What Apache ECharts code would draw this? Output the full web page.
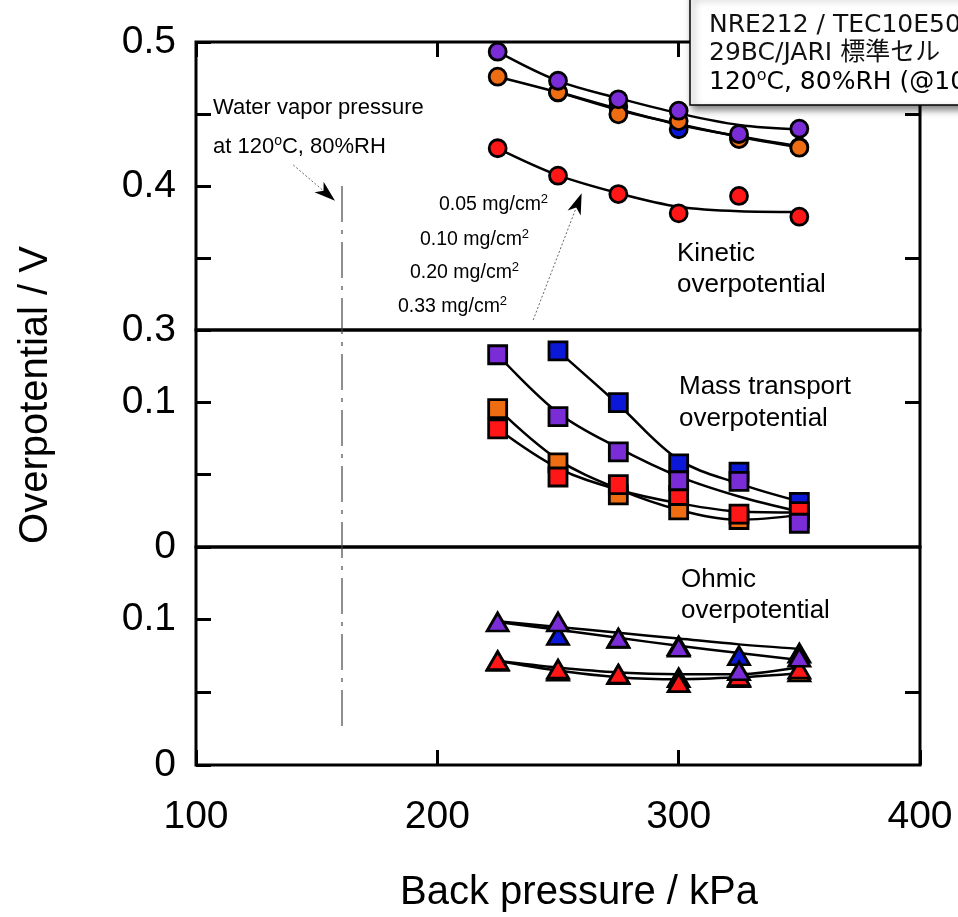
<!DOCTYPE html>
<html><head><meta charset="utf-8">
<script src="https://cdn.jsdelivr.net/npm/echarts@6/dist/echarts.min.js"></script>
<style>html,body{margin:0;padding:0;background:#fff}#c{width:958px;height:917px}</style>
</head><body><div id="c"></div>
<script>
// ---------------- data ----------------
const pressure = [225, 250, 275, 300, 325, 350];

// Kinetic overpotential (V)
const kineticBlue   = [null, 0.4650, 0.4551, 0.4394, 0.4338, 0.4270];
const kineticOrange = [0.4759, 0.4651, 0.4498, 0.4451, 0.4326, 0.4266];
const kineticRed    = [0.4262, 0.4072, 0.3944, 0.3810, 0.3931, 0.3787];
const kineticPurple = [0.4933, 0.4731, 0.4602, 0.4523, 0.4361, 0.4398];
const kineticFitBlue   = [null, 0.4655, 0.4535, 0.4425, 0.4345, 0.4275];
const kineticFitOrange = [0.4759, 0.4650, 0.4528, 0.4430, 0.4342, 0.4269];
const kineticFitRed    = [0.4262, 0.4075, 0.3950, 0.3856, 0.3825, 0.3820];
const kineticFitPurple = [0.4933, 0.4730, 0.4610, 0.4505, 0.4424, 0.4394];

// Mass transport overpotential (V)
const massBlue   = [null, 0.1356, 0.0998, 0.0574, 0.0518, 0.0308];
const massOrange = [0.0956, 0.0581, 0.0361, 0.0257, 0.0190, 0.0200];
const massRed    = [0.0817, 0.0484, 0.0431, 0.0356, 0.0227, 0.0245];
const massPurple = [0.1329, 0.0901, 0.0657, 0.0458, 0.0454, 0.0164];
const massFitBlue   = [null, 0.1356, 0.0985, 0.0604, 0.0438, 0.0315];
const massFitOrange = [0.0956, 0.0604, 0.0400, 0.0257, 0.0188, 0.0222];
const massFitRed    = [0.0817, 0.0546, 0.0396, 0.0303, 0.0245, 0.0238];
const massFitPurple = [0.1329, 0.0928, 0.0685, 0.0488, 0.0349, 0.0245];

// Ohmic overpotential (V)
const ohmicBlue   = [null, 0.0891, 0.0870, 0.0820, 0.0752, 0.0770];
const ohmicOrange = [0.0712, 0.0645, 0.0622, 0.0600, 0.0600, 0.0640];
const ohmicRed    = [0.0718, 0.0660, 0.0625, 0.0567, 0.0609, 0.0660];
const ohmicPurple = [0.0984, 0.0984, 0.0873, 0.0810, 0.0648, 0.0741];
const ohmicFitA = [0.0990, 0.0950, 0.0910, 0.0870, 0.0830, 0.0799];
const ohmicFitB = [0.0984, 0.0930, 0.0875, 0.0820, 0.0770, 0.0722];
const ohmicFitC = [0.0718, 0.0671, 0.0637, 0.0625, 0.0625, 0.0674];
const ohmicFitD = [0.0718, 0.0650, 0.0604, 0.0590, 0.0604, 0.0632];

// axes
const xTicks = [100, 200, 300, 400];
const yLabelsKinetic = [0.3, 0.4, 0.5];
const yLabelsMass = [0, 0.1];
const yLabelsOhmic = [0, 0.1];
const rightTicksKinetic = [0.35, 0.45];
const rightTicksMass = [0.1];
const rightTicksOhmic = [0.05];

// annotations (data coordinates)
const vaporPressure = 160.5;
const vaporLineTop = 0.40;      // kinetic panel
const vaporLineBottom = 0.024;  // ohmic panel
const arrow1 = {from: [140.3, 0.4146], to: [157.6, 0.3898]};
const arrow2 = {from: [239.7, 0.3069], to: [259.8, 0.3949]};
const loadingLabels = ['0.05 mg/cm', '0.10 mg/cm', '0.20 mg/cm', '0.33 mg/cm'];

// ---------------- styling ----------------
const cBlue = '#0B18D8', cOrange = '#EE6C12', cRed = '#FF1616', cPurple = '#7A2DD6';
const FA = 'Liberation Sans, Arial, sans-serif';

function pts(vals) {
  return pressure.map((p, i) => vals[i] == null ? null : [p, vals[i]]).filter(Boolean);
}
function fmt(v) { return Math.abs(v) < 1e-9 ? '0' : v.toFixed(1); }
function leftAxis(g, min, max, labels) {
  return {type: 'value', gridIndex: g, position: 'left', min, max, interval: 0.05,
    axisLine: {show: false}, splitLine: {show: false},
    axisTick: {show: true, inside: true, length: 15, lineStyle: {color: '#000', width: 3}},
    axisLabel: {show: true, showMinLabel: true, showMaxLabel: true, margin: 20, fontSize: 39,
      fontFamily: FA, color: '#000',
      formatter: v => labels.some(l => Math.abs(l - v) < 1e-9) ? fmt(v) : ''}};
}
function rightAxis(g, min, max, ticks) {
  return {type: 'value', gridIndex: g, position: 'right', min, max, interval: 0.05,
    axisLine: {show: false}, splitLine: {show: false}, axisLabel: {show: false},
    axisTick: {show: true, inside: true, length: 15, customValues: ticks,
      lineStyle: {color: '#000', width: 3}}};
}
function xAxisCfg(g, pos, ticks, labels) {
  return {type: 'value', gridIndex: g, position: pos, min: 100, max: 400, interval: 100,
    axisLine: {show: false}, splitLine: {show: false},
    axisTick: {show: ticks, inside: true, length: 15, lineStyle: {color: '#000', width: 3}},
    axisLabel: {show: labels, margin: 33, fontSize: 39, fontFamily: FA, color: '#000',
      showMinLabel: true, showMaxLabel: true}};
}
function fit(g, vals) {
  return {type: 'line', xAxisIndex: g, yAxisIndex: g, data: pts(vals), smooth: 0.35,
    symbol: 'none', z: 2, lineStyle: {color: '#000', width: 2.5}, silent: true};
}
function sc(g, vals, symbol, color, size, z) {
  return {type: 'scatter', xAxisIndex: g, yAxisIndex: g, data: pts(vals), symbol, symbolSize: size,
    z, itemStyle: {color, borderColor: '#000', borderWidth: 2.8, opacity: 1}};
}

const gridBase = {left: 196, right: 38, show: true, borderColor: '#000', borderWidth: 3, backgroundColor: 'transparent'};
const circ = 17, sq = 18, tri = [21, 18];

const option = {
  animation: false,
  backgroundColor: '#fff',
  grid: [
    Object.assign({top: 42, height: 288}, gridBase),
    Object.assign({top: 330, height: 217}, gridBase),
    Object.assign({top: 547, height: 218}, gridBase)
  ],
  xAxis: [xAxisCfg(0, 'top', true, false), xAxisCfg(1, 'bottom', false, false), xAxisCfg(2, 'bottom', true, true)],
  yAxis: [
    leftAxis(0, 0.3, 0.5, yLabelsKinetic),
    leftAxis(1, 0, 0.15, yLabelsMass),
    leftAxis(2, 0, 0.15, yLabelsOhmic),
    rightAxis(0, 0.3, 0.5, rightTicksKinetic),
    rightAxis(1, 0, 0.15, rightTicksMass),
    rightAxis(2, 0, 0.15, rightTicksOhmic)
  ],
  series: [
    fit(0, kineticFitBlue), fit(0, kineticFitOrange), fit(0, kineticFitRed), fit(0, kineticFitPurple),
    sc(0, kineticBlue, 'circle', cBlue, circ, 3), sc(0, kineticOrange, 'circle', cOrange, circ, 4),
    sc(0, kineticRed, 'circle', cRed, circ, 5), sc(0, kineticPurple, 'circle', cPurple, circ, 6),

    fit(1, massFitBlue), fit(1, massFitOrange), fit(1, massFitRed), fit(1, massFitPurple),
    sc(1, massBlue, 'rect', cBlue, sq, 3), sc(1, massOrange, 'rect', cOrange, sq, 4),
    sc(1, massRed, 'rect', cRed, sq, 5), sc(1, massPurple, 'rect', cPurple, sq, 6),

    fit(2, ohmicFitA), fit(2, ohmicFitB), fit(2, ohmicFitC), fit(2, ohmicFitD),
    sc(2, ohmicBlue, 'triangle', cBlue, tri, 3), sc(2, ohmicOrange, 'triangle', cOrange, tri, 4),
    sc(2, ohmicRed, 'triangle', cRed, tri, 5), sc(2, ohmicPurple, 'triangle', cPurple, tri, 6)
  ]
};

const chart = echarts.init(document.getElementById('c'), null, {renderer: 'canvas'});
chart.setOption(option);

// ---------------- annotations ----------------
const px = (g, p, v) => chart.convertToPixel({gridIndex: g}, [p, v]);
function arrowHead(tip, from, len, half) {
  const dx = tip[0] - from[0], dy = tip[1] - from[1], d = Math.hypot(dx, dy);
  const ux = dx / d, uy = dy / d, nx = -uy, ny = ux;
  const bx = tip[0] - ux * len, by = tip[1] - uy * len;
  const notch = [tip[0] - ux * len * 0.72, tip[1] - uy * len * 0.72];
  return {pts: [tip, [bx + nx * half, by + ny * half], notch, [bx - nx * half, by - ny * half]], notch};
}
function arrow(a) {
  const t = px(0, a.from[0], a.from[1]), h = px(0, a.to[0], a.to[1]);
  const ah = arrowHead(h, t, 21, 7);
  return [
    {type: 'line', z: 50, shape: {x1: t[0], y1: t[1], x2: ah.notch[0], y2: ah.notch[1]},
      style: {stroke: '#666', lineWidth: 1, lineDash: [2, 2]}},
    {type: 'polygon', z: 51, shape: {points: ah.pts}, style: {fill: '#000'}}
  ];
}
const vTop = px(0, vaporPressure, vaporLineTop), vBot = px(2, vaporPressure, vaporLineBottom);

function txt(text, x, y, size, extra) {
  return Object.assign({type: 'text', z: 60, style: {text, x, y, fill: '#000',
    font: size + 'px ' + FA, align: 'left', verticalAlign: 'middle'}}, extra || {});
}
function richTxt(text, x, y, size, supSize, family) {
  return {type: 'text', z: 60, style: {text, x, y, align: 'left', verticalAlign: 'middle',
    rich: {a: {fontSize: size, fontFamily: family || FA, color: '#000', lineHeight: size + 4},
           s: {fontSize: supSize, fontFamily: family || FA, color: '#000', verticalAlign: 'top', lineHeight: supSize}}}};
}

const loadX = [439, 420, 410, 398], loadY = [205, 240, 273, 307];
const BF = 'DejaVu Sans, Noto Sans CJK JP, sans-serif';

const graphics = [
  {type: 'line', z: 40, shape: {x1: vTop[0], y1: vTop[1], x2: vBot[0], y2: vBot[1]},
    style: {stroke: '#444', lineWidth: 1.2, lineDash: [36, 8, 4, 8]}},
  ...arrow(arrow1), ...arrow(arrow2),
  txt('Water vapor pressure', 213, 108, 22),
  richTxt('{a|at 120}{s|o}{a|C, 80%RH}', 213, 147, 22, 14),
  ...loadingLabels.map((l, i) => richTxt('{a|' + l + '}{s|2}', loadX[i], loadY[i], 19.5, 13)),
  txt('Kinetic', 677, 254, 26), txt('overpotential', 677, 285, 26),
  txt('Mass transport', 679, 387, 26), txt('overpotential', 679, 419, 26),
  txt('Ohmic', 681, 580, 26), txt('overpotential', 681, 611, 26),
  {type: 'text', z: 60, rotation: Math.PI / 2, x: 36, y: 395,
    style: {text: 'Overpotential / V', x: 0, y: 0, fill: '#000', font: '40px ' + FA, align: 'center', verticalAlign: 'middle'}},
  {type: 'text', z: 60, style: {text: 'Back pressure / kPa', x: 579, y: 893, fill: '#000',
    font: '40px ' + FA, align: 'center', verticalAlign: 'middle'}},
  {type: 'rect', z: 70, shape: {x: 690, y: -5, width: 320, height: 110},
    style: {fill: '#fff', stroke: '#000', lineWidth: 1.5, shadowBlur: 7, shadowOffsetX: 3, shadowOffsetY: 4, shadowColor: 'rgba(0,0,0,0.5)'}},
  {type: 'text', z: 71, style: {text: 'NRE212 / TEC10E50E', x: 709, y: 25, fill: '#111', font: '25px ' + BF, align: 'left', verticalAlign: 'middle'}},
  {type: 'text', z: 71, style: {text: '29BC/JARI 標準セル', x: 709, y: 53, fill: '#111', font: '25px ' + BF, align: 'left', verticalAlign: 'middle'}},
  Object.assign(richTxt('{a|120}{s|o}{a|C, 80%RH (@100 kPa)}', 709, 82, 25, 16, BF), {z: 71})
];
chart.setOption({graphic: graphics});
</script>
</body></html>
